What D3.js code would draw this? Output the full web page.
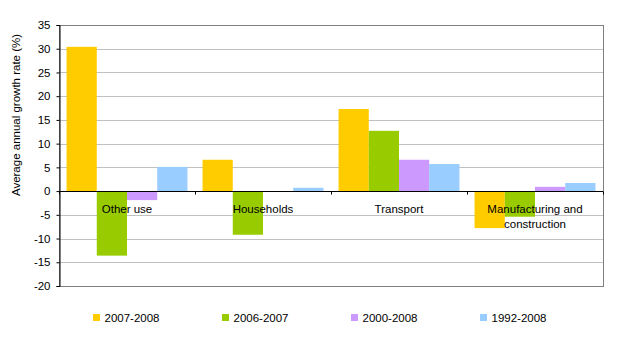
<!DOCTYPE html>
<html>
<head>
<meta charset="utf-8">
<script src="https://cdn.jsdelivr.net/npm/d3@7"></script>
<style>
  html, body { margin: 0; padding: 0; background: #fff; }
  svg { display: block; font-family: "Liberation Sans", Arial, sans-serif; }
</style>
</head>
<body>
<svg id="chart" width="618" height="337"></svg>
<script>
// ---- data ----
const categories = ["Other use", "Households", "Transport", "Manufacturing and construction"];
const categoryLines = [["Other use"], ["Households"], ["Transport"], ["Manufacturing and", "construction"]];
const seriesNames = ["2007-2008", "2006-2007", "2000-2008", "1992-2008"];
const values2007_2008 = [30.4, 6.6, 17.3, -7.8];
const values2006_2007 = [-13.6, -9.2, 12.7, -5.4];
const values2000_2008 = [-1.9, 0.0, 6.6, 0.9];
const values1992_2008 = [5.1, 0.7, 5.7, 1.7];
const yTickValues = [-20, -15, -10, -5, 0, 5, 10, 15, 20, 25, 30, 35];
const yTitle = "Average annual growth rate (%)";

const seriesValues = [values2007_2008, values2006_2007, values2000_2008, values1992_2008];
const colors = ["#FFCC00", "#99CC00", "#CC99FF", "#99CCFF"];

// ---- layout ----
const svg = d3.select("#chart");
const plot = { left: 59, right: 603, top: 25, bottom: 286 };

const x0 = d3.scaleBand().domain(categories).range([plot.left, plot.right]).padding(0);
const x1 = d3.scaleBand().domain(seriesNames).range([0, x0.bandwidth()]).paddingInner(0).paddingOuter(0.25);
const y = d3.scaleLinear().domain([-20, 35]).range([plot.bottom, plot.top]);

// gridlines
svg.append("g").selectAll("line")
  .data(yTickValues.filter(v => v !== 0 && v !== -20 && v !== 35))
  .join("line")
  .attr("x1", plot.left).attr("x2", plot.right)
  .attr("y1", d => Math.round(y(d)) + 0.5).attr("y2", d => Math.round(y(d)) + 0.5)
  .attr("stroke", "#C0C0C0").attr("stroke-width", 1);

// plot border (gray)
svg.append("rect")
  .attr("x", plot.left + 0.5).attr("y", Math.round(y(35)) + 0.5)
  .attr("width", plot.right - plot.left).attr("height", Math.round(y(-20)) - Math.round(y(35)))
  .attr("fill", "none").attr("stroke", "#808080").attr("stroke-width", 1);

// bars
const barData = [];
categories.forEach((c, i) => {
  seriesNames.forEach((s, j) => {
    barData.push({ cat: c, series: s, value: seriesValues[j][i], color: colors[j] });
  });
});
svg.append("g").selectAll("rect")
  .data(barData)
  .join("rect")
  .attr("x", d => x0(d.cat) + x1(d.series))
  .attr("width", x1.bandwidth())
  .attr("y", d => y(Math.max(0, d.value)))
  .attr("height", d => Math.abs(y(d.value) - y(0)))
  .attr("fill", d => d.color);

// y axis
const yAxis = d3.axisLeft(y).tickValues(yTickValues).tickSize(3).tickPadding(6).tickFormat(d => String(d));
const yg = svg.append("g").attr("transform", `translate(${plot.left + 0.5},0)`).call(yAxis);
yg.select(".domain").attr("stroke", "#000");
yg.selectAll(".tick line").attr("stroke", "#000");
yg.selectAll(".tick text").attr("font-size", "11.5px").attr("fill", "#000")
  .attr("font-family", "'Liberation Sans', Arial, sans-serif");

// zero line and category ticks
const y0 = Math.round(y(0)) + 0.5;
svg.append("line").attr("x1", plot.left).attr("x2", plot.right)
  .attr("y1", y0).attr("y2", y0).attr("stroke", "#000");
const boundaries = categories.map(c => x0(c)).concat([plot.right]);
svg.append("g").selectAll("line").data(boundaries).join("line")
  .attr("x1", d => Math.round(d) + 0.5).attr("x2", d => Math.round(d) + 0.5)
  .attr("y1", y0).attr("y2", y0 + 3).attr("stroke", "#000");

// category labels
const labels = svg.append("g").selectAll("text").data(categories).join("text")
  .attr("x", d => x0(d) + x0.bandwidth() / 2)
  .attr("y", y0 + 21)
  .attr("text-anchor", "middle")
  .attr("font-size", "11.5px")
  .attr("fill", "#000");
labels.each(function(d, i) {
  const t = d3.select(this);
  categoryLines[i].forEach((line, k) => {
    t.append("tspan").attr("x", x0(d) + x0.bandwidth() / 2).attr("dy", k === 0 ? 0 : 15.6).text(line);
  });
});

// y title
svg.append("text")
  .attr("transform", `translate(19.5,${(plot.top + 205) / 2}) rotate(-90)`)
  .attr("text-anchor", "middle")
  .attr("font-size", "11.5px")
  .attr("fill", "#000")
  .text(yTitle);

// legend
const legendX = d3.scalePoint().domain(seriesNames).range([93, 480]);
const lg = svg.append("g").selectAll("g").data(seriesNames).join("g")
  .attr("transform", d => `translate(${legendX(d)},314)`);
lg.append("rect").attr("width", 7).attr("height", 7).attr("fill", (d, i) => colors[i]);
lg.append("text").attr("x", 11.5).attr("y", 7.6).attr("font-size", "11.5px").attr("fill", "#000").text(d => d);
</script>
</body>
</html>
